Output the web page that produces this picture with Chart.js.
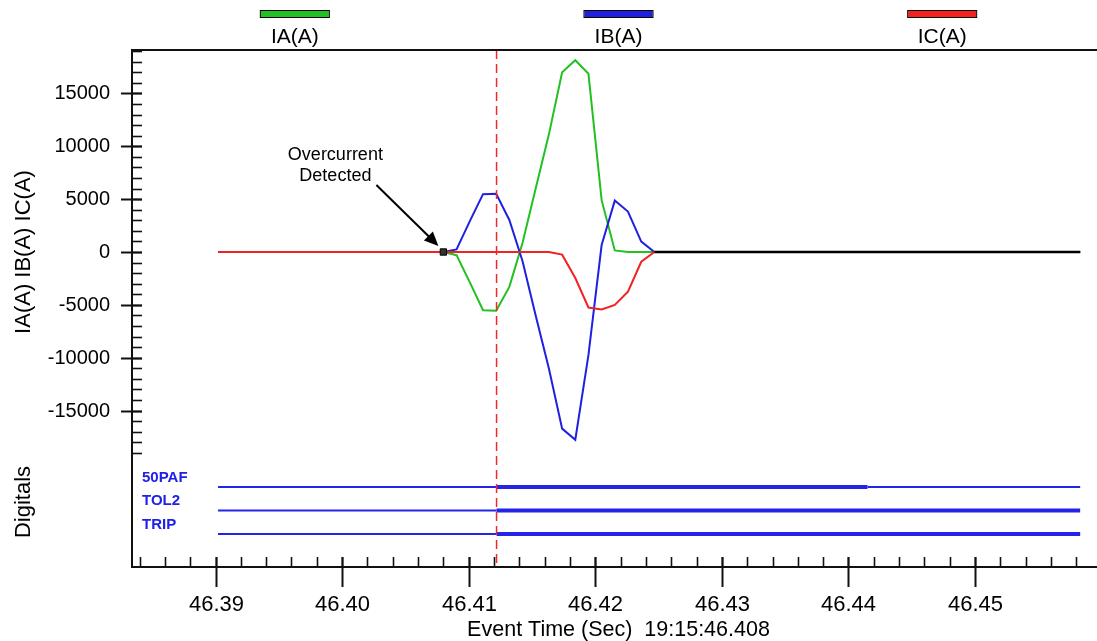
<!DOCTYPE html>
<html>
<head>
<meta charset="utf-8">
<title>Overcurrent event</title>
<script src="https://cdn.jsdelivr.net/npm/chart.js@4.4.1/dist/chart.umd.min.js"></script>
<style>
    body { margin: 0; background: #fff; }
    canvas { display: block; }
</style>
</head>
<body>
<canvas id="event-chart" width="1097" height="641"></canvas>
<script>
// Analog samples (seconds of the minute 19:15) read from the event record
const sampleTimes = [46.3902, 46.40800, 46.40904, 46.41008, 46.41113, 46.41217, 46.41321, 46.41425, 46.41529,
    46.41633, 46.41738, 46.41842, 46.41946, 46.42050, 46.42154, 46.42258, 46.42363, 46.42467, 46.4583];
const iaValues = [0, 0, -300, -2850, -5500, -5560, -3300, 850, 6000, 11100, 17000, 18130, 16850, 4900, 150, 0, 0, 0, 0];
const ibValues = [0, 0, 250, 2900, 5470, 5500, 3030, -850, -6000, -11000, -16700, -17750, -9730, 660, 4860, 3820, 980, 0, 0];
const icValues = [0, 0, 0, 0, 0, 0, 0, 0, 0, 0, -250, -2460, -5250, -5430, -5000, -3750, -920, 0, 0];
const seriesNames = ['IA(A)', 'IB(A)', 'IC(A)'];
const seriesColors = ['#22c022', '#2020e0', '#f02222'];

// Settled part of the record, drawn in black over the other channels
const tailTimes = [46.42467, 46.4583];
const tailValues = [0, 0];

// Trigger point and cursor
const triggerTime = 46.408;
const triggerValue = 0;
const cursorTime = 46.4122;

// Digital channels: change times and state after each change
const digitalNames = ['50PAF', 'TOL2', 'TRIP'];
const digitalTimes = [
    [46.3902, 46.4122, 46.4415, 46.4583],
    [46.3902, 46.4122, 46.4583],
    [46.3902, 46.4122, 46.4583]
];
const digitalStates = [
    [0, 1, 0, 0],
    [0, 1, 1],
    [0, 1, 1]
];

// Axis ticks
const xTickLabels = ['46.39', '46.40', '46.41', '46.42', '46.43', '46.44', '46.45'];
const yTickLabels = ['15000', '10000', '5000', '0', '-5000', '-10000', '-15000'];
const xMinorStep = 0.002;
const yMinorStep = 1000;
const xTitle = 'Event Time (Sec)  19:15:46.408';
const yTitle = 'IA(A) IB(A) IC(A)';
const digitalTitle = 'Digitals';

const FONT = "'Liberation Sans', Arial, sans-serif";

function toPoints(xs, ys) {
    return xs.map((t, i) => ({ x: t, y: ys[i] }));
}

const analogSets = [iaValues, ibValues, icValues].map((vals, i) => ({
    label: seriesNames[i],
    data: toPoints(sampleTimes, vals),
    borderColor: seriesColors[i],
    borderWidth: 2,
    pointRadius: 0,
    tension: 0,
    yAxisID: 'y',
    order: 4 - i
}));

const digitalSets = digitalNames.map((name, i) => ({
    label: name,
    data: digitalTimes[i].map(t => ({ x: t, y: digitalNames.length - i })),
    borderColor: '#2424e8',
    borderWidth: 2,
    pointRadius: 0,
    yAxisID: 'yd',
    order: 5,
    segment: {
        // asserted bits are drawn with a heavier line
        borderWidth: ctx => digitalStates[i][ctx.p0DataIndex] ? 4 : 2
    }
}));

// Axes, ticks, legend, cursor and the annotation
const decorations = {
    id: 'decorations',
    afterDatasetsDraw(chart) {
        const { ctx, chartArea: a, scales: { x, y, yd } } = chart;
        ctx.save();

        // red dashed cursor
        const cx = x.getPixelForValue(cursorTime);
        ctx.strokeStyle = '#f02828';
        ctx.lineWidth = 1.5;
        ctx.setLineDash([9, 5]);
        ctx.beginPath();
        ctx.moveTo(cx, a.top);
        ctx.lineTo(cx, a.bottom);
        ctx.stroke();
        ctx.setLineDash([]);

        // frame
        ctx.fillStyle = '#111';
        ctx.fillRect(a.left - 1, a.top - 1, a.right - a.left + 1, 2);
        ctx.fillRect(a.left - 1, a.top - 1, 2, a.bottom - a.top + 2);
        ctx.fillRect(a.left - 1, a.bottom - 1, a.right - a.left + 1, 2);

        // y ticks (analog part only)
        ctx.strokeStyle = '#111';
        const yFirst = Math.ceil(y.min / yMinorStep);
        const yLast = Math.floor(y.max / yMinorStep);
        for (let k = yFirst; k <= yLast; k++) {
            const py = Math.round(y.getPixelForValue(k * yMinorStep)) + 0.5;
            ctx.lineWidth = 1.6;
            ctx.beginPath();
            ctx.moveTo(a.left, py);
            ctx.lineTo(a.left + 10, py);
            ctx.stroke();
        }
        ctx.font = '20px ' + FONT;
        ctx.fillStyle = '#000';
        ctx.textAlign = 'right';
        ctx.textBaseline = 'middle';
        yTickLabels.forEach(label => {
            const py = Math.round(y.getPixelForValue(parseFloat(label))) + 0.5;
            ctx.lineWidth = 2;
            ctx.beginPath();
            ctx.moveTo(a.left - 11, py);
            ctx.lineTo(a.left + 10, py);
            ctx.stroke();
            ctx.fillText(label, a.left - 22, py);
        });

        // x ticks
        const xFirst = Math.ceil(x.min / xMinorStep);
        const xLast = Math.floor(x.max / xMinorStep);
        for (let k = xFirst; k <= xLast; k++) {
            const px = Math.round(x.getPixelForValue(k * xMinorStep)) + 0.5;
            ctx.lineWidth = 1.6;
            ctx.beginPath();
            ctx.moveTo(px, a.bottom);
            ctx.lineTo(px, a.bottom - 10);
            ctx.stroke();
        }
        ctx.font = '22px ' + FONT;
        ctx.textAlign = 'center';
        xTickLabels.forEach(label => {
            const px = Math.round(x.getPixelForValue(parseFloat(label))) + 0.5;
            ctx.lineWidth = 2;
            ctx.beginPath();
            ctx.moveTo(px, a.bottom - 10);
            ctx.lineTo(px, a.bottom + 20);
            ctx.stroke();
            ctx.fillText(label, px, a.bottom + 38);
        });

        // axis titles
        ctx.font = '21.5px ' + FONT;
        ctx.fillText(xTitle, a.left + (a.right - a.left) / 2 + 4, a.bottom + 63);
        ctx.save();
        ctx.translate(24, (y.top + y.bottom) / 2);
        ctx.rotate(-Math.PI / 2);
        ctx.font = '22px ' + FONT;
        ctx.fillText(yTitle, 0, 0);
        ctx.restore();
        ctx.save();
        ctx.translate(24, yd.top + 48);
        ctx.rotate(-Math.PI / 2);
        ctx.font = '22px ' + FONT;
        ctx.fillText(digitalTitle, 0, 0);
        ctx.restore();

        // digital channel names
        ctx.font = 'bold 15px ' + FONT;
        ctx.fillStyle = '#2020e6';
        ctx.textAlign = 'left';
        digitalNames.forEach((name, i) => {
            const py = yd.getPixelForValue(digitalNames.length - i);
            ctx.fillText(name, a.left + 10, py - 9.5);
        });

        // legend above the plot
        ctx.font = '21px ' + FONT;
        ctx.textAlign = 'center';
        seriesNames.forEach((name, i) => {
            const lx = a.left + (a.right - a.left) * (2 * i + 1) / 6 + 2 + i * 2;
            ctx.fillStyle = seriesColors[i];
            ctx.fillRect(lx - 34, 11, 68, 6);
            ctx.strokeStyle = '#000';
            ctx.lineWidth = 1;
            ctx.strokeRect(lx - 34.5, 10.5, 69, 7);
            ctx.fillStyle = '#000';
            ctx.fillText(name, lx, 37);
        });

        // annotation pointing at the trigger
        const mx = x.getPixelForValue(triggerTime);
        const my = y.getPixelForValue(triggerValue);
        ctx.font = '18px ' + FONT;
        ctx.fillText('Overcurrent', mx - 108, my - 97);
        ctx.fillText('Detected', mx - 108, my - 76);
        const tx = mx - 5, ty = my - 6;
        ctx.strokeStyle = '#000';
        ctx.lineWidth = 2;
        ctx.beginPath();
        ctx.moveTo(mx - 67, my - 67);
        ctx.lineTo(tx - 8, ty - 8);
        ctx.stroke();
        ctx.beginPath();
        ctx.moveTo(tx, ty);
        ctx.lineTo(tx - 14.5, ty - 5.5);
        ctx.lineTo(tx - 5.5, ty - 14.5);
        ctx.closePath();
        ctx.fill();

        ctx.restore();
    }
};

new Chart(document.getElementById('event-chart'), {
    type: 'line',
    data: {
        datasets: [
            {
                label: 'trigger',
                data: [{ x: triggerTime, y: triggerValue }],
                showLine: false,
                pointStyle: 'rect',
                pointRadius: 4.5,
                pointBackgroundColor: '#333',
                pointBorderColor: '#000',
                pointBorderWidth: 1,
                yAxisID: 'y',
                order: 0
            },
            {
                label: 'tail',
                data: toPoints(tailTimes, tailValues),
                borderColor: '#000',
                borderWidth: 2.5,
                pointRadius: 0,
                yAxisID: 'y',
                order: 1
            },
            ...analogSets,
            ...digitalSets
        ]
    },
    options: {
        responsive: false,
        devicePixelRatio: 1,
        animation: false,
        layout: { autoPadding: false, padding: { left: 132, top: 50, right: 0, bottom: 74 } },
        plugins: {
            legend: { display: false },
            tooltip: { enabled: false }
        },
        scales: {
            x: { type: 'linear', min: 46.383404, max: 46.459629, display: false },
            // left stacked boxes are laid out in reverse, so the digital axis comes first here
            yd: { type: 'linear', min: -0.4, max: 4.4, display: false, position: 'left', stack: 'left', stackWeight: 113 },
            y: { type: 'linear', min: -19100, max: 19100, display: false, position: 'left', stack: 'left', stackWeight: 404 }
        }
    },
    plugins: [decorations]
});
</script>
</body>
</html>
